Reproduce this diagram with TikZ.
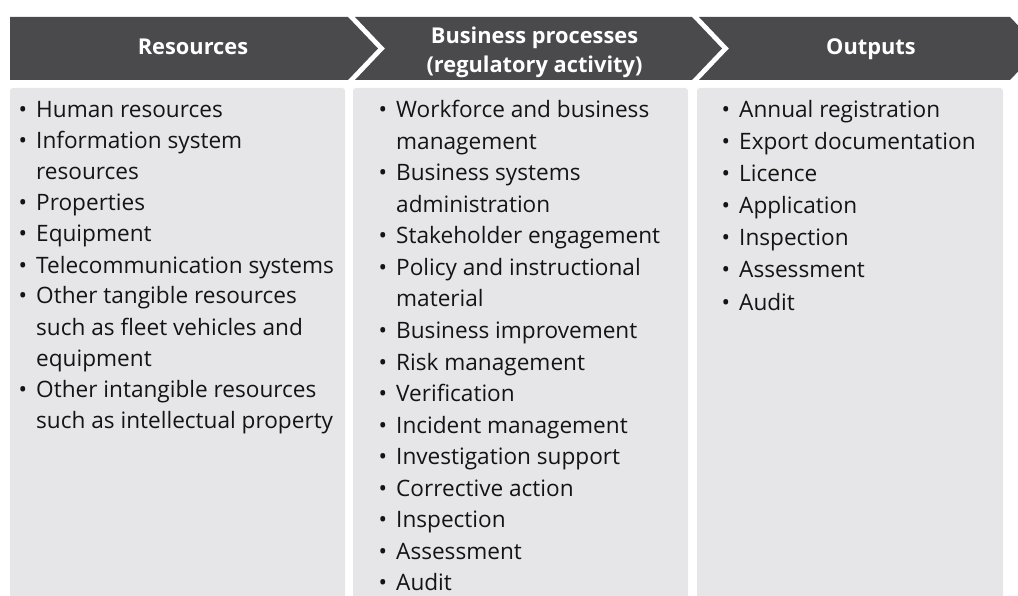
\documentclass[tikz,border=0pt]{standalone}
\usepackage{fontspec}
\setmainfont{Open Sans}
\definecolor{hdr}{HTML}{4A4A4C}
\definecolor{boxfill}{HTML}{E6E6E8}
\definecolor{txt}{HTML}{141414}
\newcommand{\bul}{\llap{\textbullet\hspace{9pt}}}
\begin{document}
\begin{tikzpicture}[x=1pt,y=-1pt,
  hdrshape/.style={fill=hdr, draw=none},
  colbox/.style={fill=boxfill, draw=none, rounded corners=3pt},
  hdrtext/.style={text=white, font=\fontsize{21.8}{28.7}\selectfont\bfseries, align=center, inner sep=0pt},
  item/.style={anchor=base west, inner sep=0pt, text=txt, font=\fontsize{22.6}{26}\selectfont}]
\useasboundingbox (0,0) rectangle (1018,596);
\clip (0,0) rectangle (1018,596);
% header chevrons
\fill[hdrshape] (10,17) -- (348,17) -- (378,48.5) -- (348,80) -- (10,80) -- cycle;
\fill[hdrshape] (355,17) -- (692,17) -- (722,48.5) -- (692,80) -- (355,80) -- (385,48.5) -- cycle;
\fill[hdrshape] (699,17) -- (1010,17) -- (1040,48.5) -- (1010,80) -- (699,80) -- (729,48.5) -- cycle;
% column boxes
\fill[colbox] (10,88) rectangle (345,620);
\fill[colbox] (353,88) rectangle (688,620);
\fill[colbox] (697,88) rectangle (1003,620);
% header texts
\node[hdrtext, anchor=base] (h1) at (193,55) {Resources};
\node[hdrtext] (h2) at (534.5,52.3) {Business processes\\(regulatory activity)};
\node[hdrtext, anchor=base] (h3) at (871,55) {Outputs};
% left column
\foreach \t [count=\i] in {\bul Human resources, \bul Information system, resources, \bul Properties, \bul Equipment, \bul Telecommunication systems, \bul Other tangible resources, such as fleet vehicles and, equipment, \bul Other intangible resources, such as intellectual property}
  \node[item] (L\i) at (36,{118+31*(\i-1)}) {\t};
% middle column
\foreach \t [count=\i] in {\bul Workforce and business, management, \bul Business systems, administration, \bul Stakeholder engagement, \bul Policy and instructional, material, \bul Business improvement, \bul Risk management, \bul Verification, \bul Incident management, \bul Investigation support, \bul Corrective action, \bul Inspection, \bul Assessment, \bul Audit}
  \node[item] (M\i) at (396,{118+31.5*(\i-1)}) {\t};
% right column
\foreach \t [count=\i] in {\bul Annual registration, \bul Export documentation, \bul Licence, \bul Application, \bul Inspection, \bul Assessment, \bul Audit}
  \node[item] (R\i) at (739,{118+32*(\i-1)}) {\t};
\end{tikzpicture}
\end{document}
